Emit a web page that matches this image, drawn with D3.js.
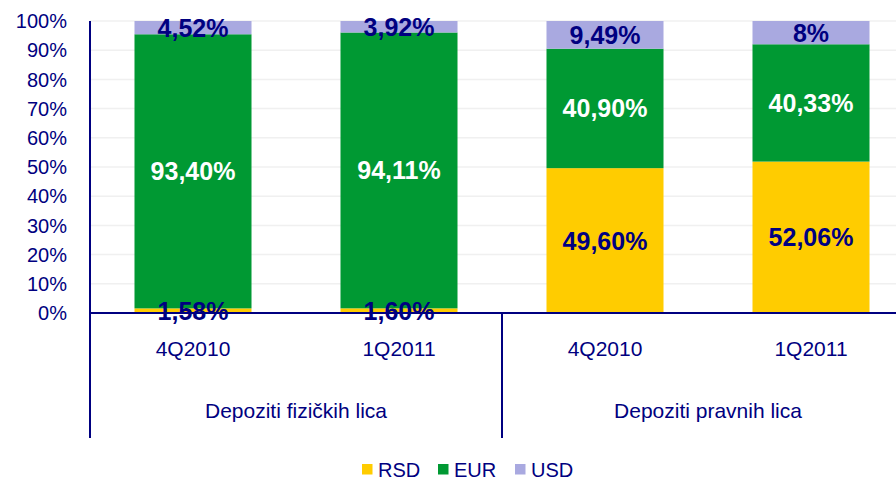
<!DOCTYPE html>
<html>
<head>
<meta charset="utf-8">
<script src="https://cdn.jsdelivr.net/npm/d3@7"></script>
<style>
  body { margin: 0; background: #fff; }
  svg text { font-family: "Liberation Sans", Arial, sans-serif; }
</style>
</head>
<body>
<svg id="chart" width="896" height="481"></svg>
<script>
// Deposit currency structure, 100% stacked bars.
const groups = ['Depoziti fizičkih lica', 'Depoziti pravnih lica'];
const quarters = ['4Q2010', '1Q2011'];
const series = ['RSD', 'EUR', 'USD'];
const rsd = [1.58, 1.60, 49.60, 52.06];
const eur = [93.40, 94.11, 40.90, 40.33];
const usd = [4.52, 3.92, 9.49, 8];
const yTicks = [0, 10, 20, 30, 40, 50, 60, 70, 80, 90, 100];

const colors = { RSD: '#ffcc00', EUR: '#009933', USD: '#a9a9e0' };
const labelColors = { RSD: '#000080', EUR: '#ffffff', USD: '#000080' };
const navy = '#000080';

const rows = [];
groups.forEach(function(g, gi) {
  quarters.forEach(function(q, qi) {
    const i = gi * quarters.length + qi;
    rows.push({ key: g + '|' + q, group: g, quarter: q, RSD: rsd[i], EUR: eur[i], USD: usd[i] });
  });
});

const svg = d3.select('#chart');
const plotLeft = 90, plotTop = 21, plotBottom = 313;

const x = d3.scaleBand()
  .domain(rows.map(d => d.key))
  .range([plotLeft, plotLeft + 206 * rows.length])
  .paddingInner(0.432)
  .paddingOuter(0.216);

const y = d3.scaleLinear().domain([0, 1]).range([plotBottom, plotTop]);

// gridlines
svg.append('g')
  .selectAll('line')
  .data(yTicks.slice(1))
  .join('line')
  .attr('x1', plotLeft).attr('x2', 896)
  .attr('y1', d => y(d / 100)).attr('y2', d => y(d / 100))
  .attr('stroke', '#f0f0f0').attr('stroke-width', 1.5);

// y tick labels
svg.append('g')
  .selectAll('text')
  .data(yTicks)
  .join('text')
  .attr('x', 67)
  .attr('y', d => y(d / 100))
  .attr('dy', '0.36em')
  .attr('text-anchor', 'end')
  .attr('font-size', 20)
  .attr('fill', navy)
  .text(d => d + '%');

const stacked = d3.stack().keys(series).offset(d3.stackOffsetExpand)(rows);

const layers = svg.append('g')
  .selectAll('g')
  .data(stacked)
  .join('g')
  .attr('fill', d => colors[d.key]);

layers.selectAll('rect')
  .data(d => d)
  .join('rect')
  .attr('x', d => x(d.data.key))
  .attr('width', x.bandwidth())
  .attr('y', d => y(d[1]))
  .attr('height', d => y(d[0]) - y(d[1]));

// axes lines
const axisG = svg.append('g').attr('stroke', navy).attr('stroke-width', 2);
axisG.append('line')
  .attr('x1', plotLeft).attr('x2', plotLeft)
  .attr('y1', plotTop).attr('y2', plotBottom);
axisG.append('line')
  .attr('x1', plotLeft).attr('x2', 896)
  .attr('y1', plotBottom).attr('y2', plotBottom);
// group separators
axisG.selectAll('line.sep')
  .data([plotLeft, plotLeft + x.step() * quarters.length])
  .join('line')
  .attr('class', 'sep')
  .attr('x1', d => d).attr('x2', d => d)
  .attr('y1', plotBottom).attr('y2', 438);

// data labels
function fmt(v) {
  return (Number.isInteger(v) ? String(v) : v.toFixed(2).replace('.', ',')) + '%';
}

stacked.forEach(function(layer) {
  svg.append('g')
    .selectAll('text')
    .data(layer)
    .join('text')
    .attr('x', d => x(d.data.key) + x.bandwidth() / 2)
    .attr('y', d => y((d[0] + d[1]) / 2))
    .attr('dy', '0.36em')
    .attr('text-anchor', 'middle')
    .attr('font-size', 25)
    .attr('font-weight', 'bold')
    .attr('fill', labelColors[layer.key])
    .text(d => fmt(d.data[layer.key]));
});

// category labels
svg.append('g')
  .selectAll('text')
  .data(rows)
  .join('text')
  .attr('x', d => x(d.key) + x.bandwidth() / 2)
  .attr('y', 356)
  .attr('text-anchor', 'middle')
  .attr('font-size', 21)
  .attr('fill', navy)
  .text(d => d.quarter);

// group labels
svg.append('g')
  .selectAll('text')
  .data(groups)
  .join('text')
  .attr('x', (d, i) => plotLeft + x.step() * quarters.length * (i + 0.5))
  .attr('y', 418)
  .attr('text-anchor', 'middle')
  .attr('font-size', 21)
  .attr('fill', navy)
  .text(d => d);

// legend
const legendX = [362, 438, 515];
const legend = svg.append('g')
  .selectAll('g')
  .data(series)
  .join('g')
  .attr('transform', (d, i) => `translate(${legendX[i]}, 464)`);
legend.append('rect')
  .attr('width', 10.5).attr('height', 10.5)
  .attr('fill', d => colors[d]);
legend.append('text')
  .attr('x', 16).attr('y', 13)
  .attr('font-size', 20)
  .attr('fill', navy)
  .text(d => d);
</script>
</body>
</html>
